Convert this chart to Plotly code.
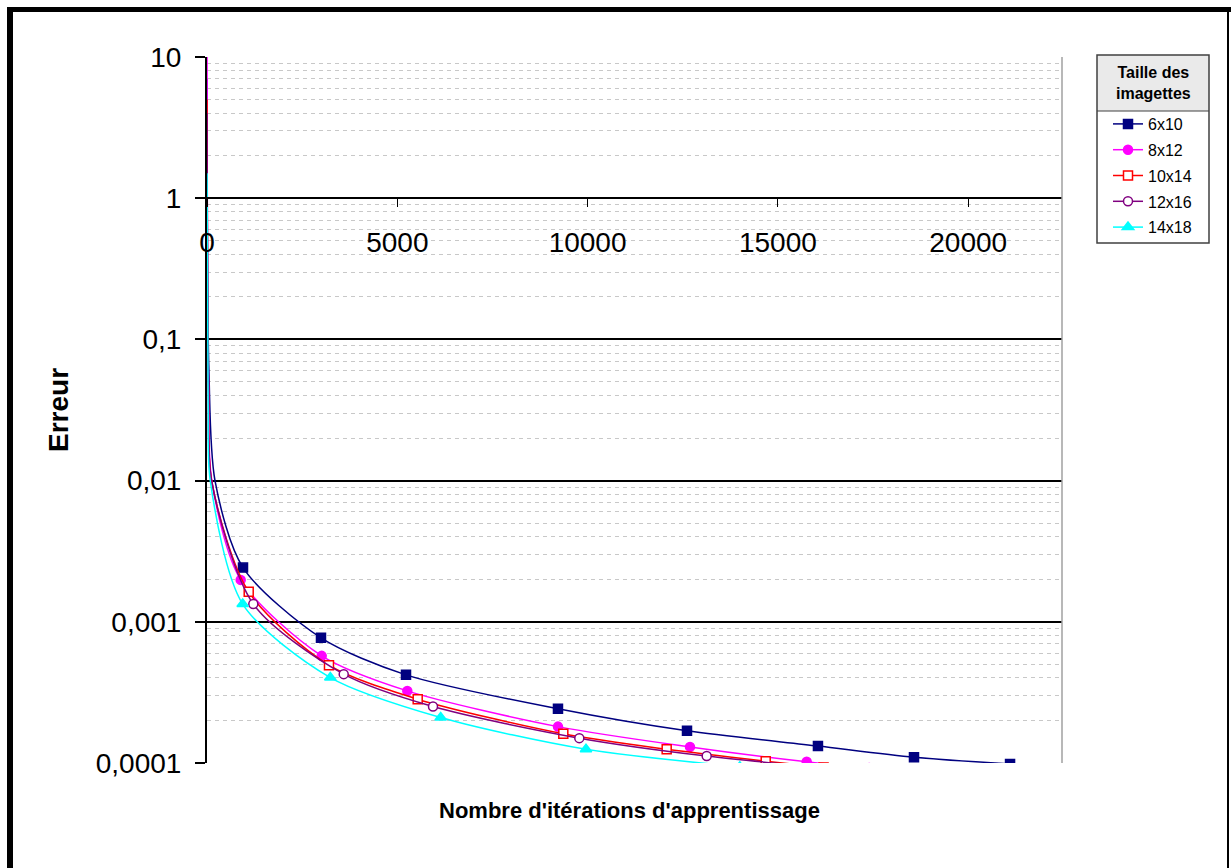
import plotly.graph_objects as go

# Axe X : nombre d'itérations, axe Y : erreur (échelle log)
series_names = ["6x10", "8x12", "10x14", "12x16", "14x18"]
series_colors = ["#000080", "#FF00FF", "#FF0000", "#800080", "#00FFFF"]

# début des courbes (points sans marqueur)
early_x_6x10 = [1, 50, 210]
early_y_6x10 = [7.0, 0.06, 0.01]
early_x_8x12 = [1, 40, 125]
early_y_8x12 = [10.0, 0.05, 0.01]
early_x_10x14 = [1, 40, 120]
early_y_10x14 = [5.0, 0.045, 0.01]
early_x_12x16 = [1, 40, 120]
early_y_12x16 = [4.0, 0.045, 0.01]
early_x_14x18 = [1, 30, 85]
early_y_14x18 = [1.5, 0.035, 0.01]

# points avec marqueur
x_6x10 = [946, 2995, 5229, 9222, 12612, 16053, 18576, 21100]
y_6x10 = [0.00242, 0.00077, 0.000421, 0.000242, 0.000169, 0.000132, 0.000110, 0.0000985]
x_8x12 = [885, 3014, 5263, 9222, 12691, 15757, 17400]
y_8x12 = [0.00198, 0.000574, 0.000324, 0.000181, 0.00013, 0.000102, 0.000092]
x_10x14 = [1096, 3205, 5536, 9362, 12078, 14680, 16200]
y_10x14 = [0.00163, 0.000493, 0.000283, 0.000161, 0.000125, 0.000103, 0.000093]
x_12x16 = [1217, 3592, 5938, 9782, 13129, 16500]
y_12x16 = [0.001336, 0.000426, 0.000251, 0.00015, 0.000112, 0.000091]
x_14x18 = [938, 3240, 6140, 9958, 14000]
y_14x18 = [0.001336, 0.000403, 0.00021, 0.000125, 0.000094]

y_tick_vals = [0.0001, 0.001, 0.01, 0.1, 1, 10]
y_tick_text = ["0,0001", "0,001", "0,01", "0,1", "1", "10"]
x_tick_vals = [0, 5000, 10000, 15000, 20000]

early = [
    (early_x_6x10, early_y_6x10),
    (early_x_8x12, early_y_8x12),
    (early_x_10x14, early_y_10x14),
    (early_x_12x16, early_y_12x16),
    (early_x_14x18, early_y_14x18),
]
marked = [
    (x_6x10, y_6x10),
    (x_8x12, y_8x12),
    (x_10x14, y_10x14),
    (x_12x16, y_12x16),
    (x_14x18, y_14x18),
]
symbols = ["square", "circle", "square", "circle", "triangle-up"]
open_marker = [False, False, True, True, False]
sizes = [9, 9, 9, 9, 10]

W, H = 1231, 868
L, R, T, B = 207, 1062, 57, 763


def px(x):
    return (x - L) / (R - L)


def py(y):
    return (B - y) / (B - T)


fig = go.Figure()

for i, name in enumerate(series_names):
    ex, ey = early[i]
    mx, my = marked[i]
    fill = "white" if open_marker[i] else series_colors[i]
    marker = dict(symbol=symbols[i], size=sizes[i], color=fill,
                  line=dict(color=series_colors[i], width=1.5))
    fig.add_trace(go.Scatter(
        x=ex + mx, y=ey + my, mode="lines",
        line=dict(color=series_colors[i], width=1.5, shape="spline", smoothing=0.8),
        showlegend=False, hoverinfo="skip",
    ))
    fig.add_trace(go.Scatter(x=mx, y=my, mode="markers", marker=marker, showlegend=False))
    # entrée de légende
    fig.add_trace(go.Scatter(
        x=[None], y=[None], mode="lines+markers", name=name,
        line=dict(color=series_colors[i], width=1.5), marker=marker,
        legendgroup=name,
    ))

shapes = [
    # légende : fond, zone titre, cadre
    dict(type="rect", xref="paper", yref="paper", x0=px(1097), x1=px(1209), y0=py(243), y1=py(55),
         fillcolor="white", line=dict(width=0), layer="below"),
    dict(type="rect", xref="paper", yref="paper", x0=px(1097), x1=px(1209), y0=py(111), y1=py(55),
         fillcolor="#EAEAEA", line=dict(width=0), layer="below"),
    dict(type="line", xref="paper", yref="paper", x0=px(1097), x1=px(1209), y0=py(111), y1=py(111),
         line=dict(color="#404040", width=1)),
    dict(type="rect", xref="paper", yref="paper", x0=px(1097), x1=px(1209), y0=py(243), y1=py(55),
         line=dict(color="#404040", width=1.5)),
    # bord droit de la zone de tracé
    dict(type="line", xref="paper", yref="paper", x0=1, x1=1, y0=0, y1=1,
         line=dict(color="#A0A0A0", width=1.5)),
    # cadre extérieur
    dict(type="line", xref="paper", yref="paper", x0=px(7), x1=px(1231), y0=py(9.5), y1=py(9.5),
         line=dict(color="black", width=5)),
    dict(type="line", xref="paper", yref="paper", x0=px(10), x1=px(10), y0=py(7), y1=py(868),
         line=dict(color="black", width=6)),
    dict(type="line", xref="paper", yref="paper", x0=px(1228), x1=px(1228), y0=py(7), y1=py(868),
         line=dict(color="black", width=2)),
]

fig.update_layout(
    width=W, height=H,
    margin=dict(l=L, r=W - R, t=T, b=H - B),
    paper_bgcolor="white", plot_bgcolor="white",
    font=dict(family="Arial, Liberation Sans, sans-serif", color="black", size=16),
    showlegend=True,
    legend=dict(
        x=px(1108), y=py(107), xanchor="left", yanchor="top",
        bgcolor="rgba(0,0,0,0)", borderwidth=0,
        font=dict(size=16), tracegroupgap=2,
    ),
    xaxis=dict(
        range=[0, 22465], tickvals=x_tick_vals, ticktext=[str(v) for v in x_tick_vals],
        tickfont=dict(size=28),
        showgrid=False, zeroline=False,
        anchor="free", position=py(198),
        showline=True, linecolor="black", linewidth=2,
        ticks="outside", ticklen=8, tickcolor="black", ticklabelstandoff=11,
        title=None,
    ),
    yaxis=dict(
        type="log", range=[-4, 1], tickvals=y_tick_vals, ticktext=y_tick_text,
        tickfont=dict(size=28),
        showgrid=True, gridcolor="black", gridwidth=2,
        minor=dict(dtick="D1", showgrid=True, gridcolor="#C8C8C8", griddash="4px,4px", gridwidth=1),
        showline=True, linecolor="black", linewidth=2,
        ticks="outside", ticklen=10, tickcolor="black", tickwidth=1.5,
        ticklabelstandoff=8,
        zeroline=False,
    ),
    shapes=shapes,
    annotations=[
        dict(text="<b>Erreur</b>", xref="paper", yref="paper", x=px(58), y=py(410),
             xanchor="center", yanchor="middle",
             showarrow=False, textangle=-90, font=dict(size=28)),
        dict(text="<b>Nombre d'itérations d'apprentissage</b>", xref="paper", yref="paper",
             x=px(629), y=py(810), xanchor="center", yanchor="middle",
             showarrow=False, font=dict(size=22)),
        dict(text="<b>Taille des<br>imagettes</b>", xref="paper", yref="paper",
             x=px(1153), y=py(83), xanchor="center", yanchor="middle",
             showarrow=False, font=dict(size=16)),
    ],
)

fig.write_html("out.html", config={"displayModeBar": False},
               post_script="document.body.style.margin='0';")
